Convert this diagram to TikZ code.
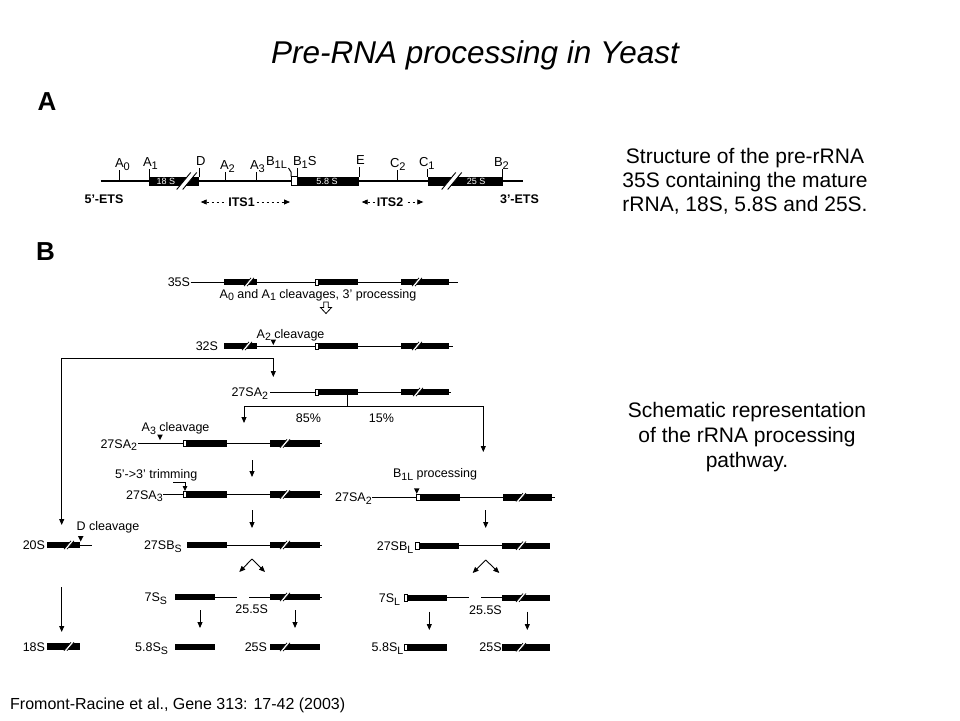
\documentclass[tikz,border=0pt]{standalone}
\usepackage{fontspec}
\setmainfont{Liberation Sans}
\usepackage{graphicx}
\usetikzlibrary{arrows.meta}
\newcommand{\fs}[1]{\fontsize{#1}{#1}\selectfont}
\newcommand{\sbs}[1]{\raisebox{-0.45ex}{\scalebox{0.85}{#1}}}
\newcommand{\bx}[3]{\fill ({#1},{#3-3.2}) rectangle ({#2},{#3+3.2});}
\newcommand{\wb}[3]{\filldraw[fill=white,draw=black,line width=0.6pt] ({#1},{#3-3.2}) rectangle ({#2},{#3+3.2});}
\newcommand{\rl}[3]{\draw[rna] ({#1},{#3}) -- ({#2},{#3});}
\newcommand{\cv}[2]{\fill ({#1-2.8},{#2-5.5}) -- ({#1+2.8},{#2-5.5}) -- ({#1},{#2}) -- cycle;}
\newcommand{\brkB}[2]{\begin{scope}[shift={(#1,#2)}]
\fill[white] (-5,4.2)--(-2,4.2)--(5,-4.2)--(2,-4.2)--cycle;
\draw[line width=0.7pt] (-5,4.2)--(2,-4.2) (-2,4.2)--(5,-4.2);
\end{scope}}
\newcommand{\brkA}[2]{\begin{scope}[shift={(#1,#2)}]
\fill[white] (-10,8.5)--(-4,8.5)--(10,-8.5)--(4,-8.5)--cycle;
\draw[line width=0.9pt] (-10,8.5)--(4,-8.5) (-4,8.5)--(10,-8.5);
\end{scope}}
\begin{document}
\begin{tikzpicture}[x=1pt,y=-1pt,
  rna/.style={line width=1pt},
  rnaA/.style={line width=1.7pt},
  tick/.style={line width=1pt},
  lbl/.style={font=\fs{12.5}, inner sep=0pt, outer sep=0pt},
  lblA/.style={font=\fs{13}, inner sep=0pt, outer sep=0pt},
  boxtxt/.style={font=\fs{9}, text=white, inner sep=0pt},
  arr/.style={-{Triangle[length=6pt,width=5pt]}, line width=0.9pt},
  itsarr/.style={{Triangle[length=6pt,width=5pt]}-{Triangle[length=6pt,width=5pt]}, line width=0.8pt, dash pattern=on 2.5pt off 2.5pt},
  side/.style={align=center, inner sep=0pt},
]
\useasboundingbox (0,0) rectangle (960,720);

% ---------- title and side texts ----------
\node[font=\itshape\fs{31.5}] (title) at (475,55) {Pre-RNA processing in Yeast};
\node[side, font=\fontsize{21}{24}\selectfont] (txtA) at (745,181)
  {Structure of the pre-rRNA\\35S containing the mature\\rRNA, 18S, 5.8S and 25S.};
\node[side, font=\fontsize{21}{25}\selectfont] (txtB) at (747,437)
  {Schematic representation\\of the rRNA processing\\pathway.};
\node[font=\fs{16}, anchor=west, inner sep=0pt] (foot) at (10,705)
  {Fromont-Racine et al., Gene 313: 17-42 (2003)};
\node[font=\bfseries\fs{26}] (labA) at (47,102) {A};
\node[font=\bfseries\fs{26}] (labB) at (45.5,252) {B};

% ---------- Part A ----------
\draw[rnaA] (100.7,181) -- (522.7,181);
\fill (149.3,176.5) rectangle (199.3,185.5);
\node[boxtxt] (t18) at (166,181) {18 S};
\brkA{186.7}{181}
\filldraw[fill=white, draw=black, line width=0.7pt] (291,176.5) rectangle (297,185.5);
\fill (297,176.5) rectangle (359.3,185.5);
\node[boxtxt] (t58) at (327,181) {5.8 S};
\fill (427.7,176.5) rectangle (502.7,185.5);
\brkA{451.7}{181}
\node[boxtxt] (t25) at (476,181) {25 S};

\node[lblA, anchor=base west] (lA0) at (115,167) {A\sbs{0}};
\draw[tick] (119.3,170) -- (119.3,181);
\node[lblA, anchor=base west] (lA1) at (143,166) {A\sbs{1}};
\draw[tick] (149.3,169) -- (149.3,177);
\node[lblA, anchor=base west] (lD) at (196,165) {D};
\draw[tick] (199.3,168) -- (199.3,177);
\node[lblA, anchor=base west] (lA2) at (220,169) {A\sbs{2}};
\draw[tick] (225.3,172) -- (225.3,181);
\node[lblA, anchor=base west] (lA3) at (250,169) {A\sbs{3}};
\draw[tick] (256,172) -- (256,181);
\node[lblA, anchor=base west] (lB1L) at (266,165) {B\sbs{1L}};
\draw[tick] (288.5,168) -- (291,172) -- (291,176.5);
\node[lblA, anchor=base west] (lB1S) at (293,165) {B\sbs{1}S};
\draw[tick] (297,168) -- (297,176.5);
\node[lblA, anchor=base west] (lE) at (356,164) {E};
\draw[tick] (359.3,167) -- (359.3,177);
\node[lblA, anchor=base west] (lC2) at (390,167) {C\sbs{2}};
\draw[tick] (397.7,170) -- (397.7,181);
\node[lblA, anchor=base west] (lC1) at (419,166) {C\sbs{1}};
\draw[tick] (427.7,169) -- (427.7,177);
\node[lblA, anchor=base west] (lB2) at (494,166) {B\sbs{2}};
\draw[tick] (502.7,169) -- (502.7,177);

\node[font=\bfseries\fs{12.5}, inner sep=0pt] (e5) at (104,199) {5'-ETS};
\node[font=\bfseries\fs{12.5}, inner sep=0pt] (e3) at (519.5,199) {3'-ETS};
\coordinate (i1a) at (200.7,202); \coordinate (i1b) at (290,202);
\draw[itsarr] (i1a) -- (i1b);
\node[fill=white, font=\bfseries\fs{12.5}, inner sep=1.5pt] (its1) at (241.5,202) {ITS1};
\coordinate (i2a) at (361.7,202); \coordinate (i2b) at (423.3,202);
\draw[itsarr] (i2a) -- (i2b);
\node[fill=white, font=\bfseries\fs{12.5}, inner sep=1.5pt] (its2) at (390,202) {ITS2};

% ---------- Part B ----------
% 35S
\node[lbl, anchor=base east] (r35) at (190,286.5) {35S};
\rl{190.5}{458}{282}
\bx{224}{257}{282} \brkB{249}{282}
\wb{315}{318.5}{282} \bx{318.5}{358}{282}
\bx{401}{449}{282} \brkB{417}{282}
\node[lbl, anchor=base] (c01) at (318,298) {A\sbs{0} and A\sbs{1} cleavages, 3' processing};
\filldraw[fill=white, draw=black, line width=0.8pt] (323.8,302)--(328.2,302)--(328.2,307.5)--(331.5,307.5)--(326,313.5)--(320.5,307.5)--(323.8,307.5)--cycle;

% 32S
\node[lbl, anchor=base east] (r32) at (218,350.5) {32S};
\rl{224}{453}{346}
\bx{224}{257}{346} \brkB{247}{346}
\wb{315}{318.5}{346} \bx{318.5}{358}{346}
\bx{401}{449}{346} \brkB{417}{346}
\node[lbl, anchor=base west] (c2) at (256.7,338) {A\sbs{2} cleavage};
\cv{273.3}{345}

\coordinate (L0) at (273.3,358);
\coordinate (L1) at (61.7,358);
\coordinate (L2) at (61.7,525);
\coordinate (L3) at (273.3,377);
\draw[arr] (L0) -- (L1) -- (L2);
\draw[arr] (L0) -- (L3);

% 27SA2 (first)
\node[lbl, anchor=base east] (r27a) at (268,396.5) {27SA\sbs{2}};
\rl{270}{451}{392}
\wb{315}{318.5}{392} \bx{318.5}{358}{392}
\bx{401}{449}{392} \brkB{418}{392}
\coordinate (tk0) at (347.3,395.2);
\coordinate (tk1) at (347.3,406.7);
\coordinate (hl) at (244,406.7);
\coordinate (hr) at (483.3,406.7);
\coordinate (al) at (244,423);
\coordinate (ar) at (483.3,452);
\draw[line width=0.9pt] (tk0) -- (tk1);
\draw[arr] (tk1) -- (hl) -- (al);
\draw[arr] (tk1) -- (hr) -- (ar);
\node[lbl, anchor=base] (p85) at (308.5,422.5) {85\%};
\node[lbl, anchor=base] (p15) at (381.5,422.5) {15\%};

% 27SA2 (second, left)
\node[lbl, anchor=base east] (r27b) at (137,448) {27SA\sbs{2}};
\rl{138}{322}{443.5}
\wb{183.3}{186.7}{443.5} \bx{186.7}{227.3}{443.5}
\bx{270}{320}{443.5} \brkB{285}{443.5}
\node[lbl, anchor=base west] (c3) at (141.7,431.7) {A\sbs{3} cleavage};
\cv{160}{440}
\coordinate (d1a) at (252,460); \coordinate (d1b) at (252,477);
\draw[arr] (d1a) -- (d1b);

% 27SA3
\node[lbl, anchor=base east] (r27c) at (162.7,499) {27SA\sbs{3}};
\rl{163.3}{322}{494.5}
\wb{183.3}{186.7}{494.5} \bx{186.7}{227}{494.5}
\bx{270}{320}{494.5} \brkB{285}{494.5}
\node[lbl, anchor=base west] (trim) at (115,478.3) {5'->3' trimming};
\coordinate (tr0) at (173.3,482.7); \coordinate (tr1) at (185,482.7); \coordinate (tr2) at (185,491);
\draw[-{Triangle[length=5pt,width=4.5pt]}, line width=0.8pt] (tr0) -- (tr1) -- (tr2);
\coordinate (d2a) at (252,510); \coordinate (d2b) at (252,528);
\draw[arr] (d2a) -- (d2b);

% 27SBS
\node[lbl, anchor=base east] (r27s) at (181.7,549.5) {27SB\sbs{S}};
\rl{226.7}{322}{545}
\bx{186.7}{226.7}{545}
\bx{270}{320}{545} \brkB{285}{545}
\coordinate (sp0) at (252,559); \coordinate (sp1) at (239.3,572); \coordinate (sp2) at (265,572);
\draw[arr] (sp0) -- (sp1);
\draw[arr] (sp0) -- (sp2);

% 7SS / 25.5S
\node[lbl, anchor=base east] (r7s) at (167,601.5) {7S\sbs{S}};
\rl{215}{236.7}{597}
\bx{175}{215}{597}
\rl{249.3}{322}{597}
\bx{270}{320}{597} \brkB{285}{597}
\node[lbl, anchor=base] (r255a) at (251.7,613) {25.5S};
\coordinate (d3a) at (200,610); \coordinate (d3b) at (200,628);
\draw[arr] (d3a) -- (d3b);
\coordinate (d4a) at (295,610); \coordinate (d4b) at (295,628);
\draw[arr] (d4a) -- (d4b);

% 5.8SS / 25S
\node[lbl, anchor=base east] (r58s) at (168,651.5) {5.8S\sbs{S}};
\bx{175}{215}{647}
\node[lbl, anchor=base east] (r25a) at (267,651.5) {25S};
\bx{270}{320}{647} \brkB{285}{647}

% 20S / 18S
\node[lbl, anchor=base east] (r20) at (45,549.5) {20S};
\bx{47.3}{80}{545} \brkB{69}{545}
\rl{80}{91.7}{545}
\node[lbl, anchor=base west] (cD) at (76.7,530) {D cleavage};
\cv{80.7}{541.5}
\coordinate (d5a) at (61.7,587); \coordinate (d5b) at (61.7,632);
\draw[arr] (d5a) -- (d5b);
\node[lbl, anchor=base east] (r18) at (45,651) {18S};
\bx{47.3}{80}{646.5} \brkB{69}{646.5}

% right branch: 27SA2
\node[lbl, anchor=base west] (cB) at (393,477.7) {B\sbs{1L} processing};
\cv{416.7}{493.8}
\node[lbl, anchor=base east] (r27r) at (371.7,501.8) {27SA\sbs{2}};
\rl{372.3}{555}{497.3}
\wb{416}{420}{497.3} \bx{420}{460}{497.3}
\bx{503}{551.5}{497.3} \brkB{521}{497.3}
\coordinate (d6a) at (485.7,510); \coordinate (d6b) at (485.7,528);
\draw[arr] (d6a) -- (d6b);

% 27SBL
\node[lbl, anchor=base east] (r27l) at (413.3,550.2) {27SB\sbs{L}};
\rl{459.3}{502}{545.7}
\wb{415.7}{419}{545.7} \bx{419}{459.3}{545.7}
\bx{502}{550}{545.7} \brkB{521}{545.7}
\coordinate (sq0) at (485.7,560); \coordinate (sq1) at (472.7,573); \coordinate (sq2) at (499.3,573);
\draw[arr] (sq0) -- (sq1);
\draw[arr] (sq0) -- (sq2);

% 7SL / 25.5S
\node[lbl, anchor=base east] (r7l) at (400,602.2) {7S\sbs{L}};
\rl{447.3}{469.3}{597.7}
\wb{404}{407.3}{597.7} \bx{407.3}{447.3}{597.7}
\rl{481.3}{502}{597.7}
\bx{502}{550}{597.7} \brkB{521}{597.7}
\node[lbl, anchor=base] (r255b) at (485.5,614) {25.5S};
\coordinate (d7a) at (429.3,611.7); \coordinate (d7b) at (429.3,630);
\draw[arr] (d7a) -- (d7b);
\coordinate (d8a) at (527.3,611.7); \coordinate (d8b) at (527.3,630);
\draw[arr] (d8a) -- (d8b);

% 5.8SL / 25S
\node[lbl, anchor=base east] (r58l) at (403.3,651.8) {5.8S\sbs{L}};
\wb{404}{407.3}{647.3} \bx{407.3}{447.3}{647.3}
\node[lbl, anchor=base east] (r25b) at (501.7,651.8) {25S};
\bx{502}{550}{647.3} \brkB{521}{647.3}
\end{tikzpicture}
\end{document}
